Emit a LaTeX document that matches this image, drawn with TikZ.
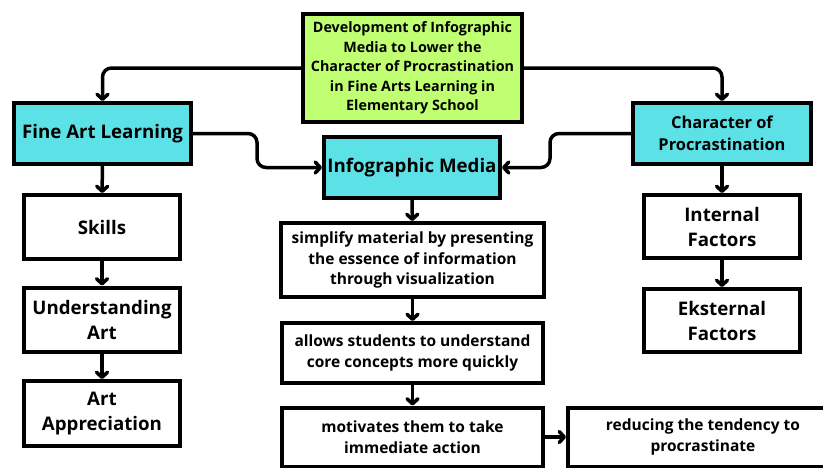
\documentclass[tikz,border=0pt]{standalone}
\usepackage{fontspec}
\setmainfont{Open Sans}[UprightFont=* Bold]
\usetikzlibrary{arrows.meta}
\definecolor{boxcyan}{HTML}{5CE1E6}
\definecolor{boxgreen}{HTML}{C1FF72}
\tikzset{
  box/.style={draw=black, line width=4pt, fill=white, inner sep=0pt, align=center, text=black},
  tealbox/.style={box, fill=boxcyan},
  greenbox/.style={box, fill=boxgreen},
  link/.style={line width=3.5pt, rounded corners=9pt, line cap=round,
    -{Straight Barb[length=5pt,width=11pt,line cap=round,line join=round]}},
  fbig/.style={font=\fontsize{18.7}{25}\selectfont},
  fmid/.style={font=\fontsize{16.4}{22}\selectfont},
  fsmall/.style={font=\fontsize{15.5}{20.5}\selectfont},
  ftitle/.style={font=\fontsize{14.3}{19.5}\selectfont},
}
\begin{document}
\begin{tikzpicture}[x=1pt,y=-1pt]
\useasboundingbox (0,0) rectangle (823,467);
\fill[white] (0,0) rectangle (823,467);

% top title box
\node[greenbox, ftitle, minimum width=219pt, minimum height=108pt] (top) at (412.5,68)
  {Development of Infographic\\Media to Lower the\\Character of Procrastination\\in Fine Arts Learning in\\Elementary School};

% three main branches
\node[tealbox, fbig, minimum width=177pt, minimum height=61pt] (art) at (102.5,133.5) {Fine Art Learning};
\node[tealbox, fbig, minimum width=176pt, minimum height=61pt] (info) at (412,167.5) {Infographic Media};
\node[tealbox, fmid, minimum width=178pt, minimum height=61pt] (proc) at (722,133.5) {Character of\\Procrastination};

% left column
\node[box, fbig, minimum width=156pt, minimum height=64pt] (skills) at (102,227) {Skills};
\node[box, fbig, minimum width=156pt, minimum height=64pt] (under) at (102,319.5) {Understanding\\Art};
\node[box, fbig, minimum width=156pt, minimum height=65pt] (appr) at (102,413.5) {Art\\Appreciation};

% middle column
\node[box, fsmall, minimum width=263pt, minimum height=74pt] (simp) at (412.5,260)
  {simplify material by presenting\\the essence of information\\through visualization};
\node[box, fsmall, minimum width=261pt, minimum height=60pt] (allow) at (412.5,353)
  {allows students to understand\\core concepts more quickly};
\node[box, fsmall, minimum width=261pt, minimum height=59pt] (motiv) at (412.5,437)
  {motivates them to take\\immediate action};
\node[box, fsmall, minimum width=270pt, minimum height=59pt] (reduce) at (703,437)
  {reducing the tendency to\\procrastinate};

% right column
\node[box, fbig, minimum width=156pt, minimum height=63pt] (inner) at (722,226.5) {Internal\\Factors};
\node[box, fbig, minimum width=156pt, minimum height=63pt] (outer) at (722,320.5) {Eksternal\\Factors};

% connectors from the title
\draw[link] (top.west) -| (art.north);
\draw[link] (top.east) -| (proc.north);
\draw[link] (art.east) -- ++(64,0) |- (info.west);
\draw[link] (proc.west) -- ++(-81,0) |- (info.east);

% chains
\draw[link] (art) -- (skills);
\draw[link] (skills) -- (under);
\draw[link] (under) -- (appr);
\draw[link] (info) -- (simp);
\draw[link] (simp) -- (allow);
\draw[link] (allow) -- (motiv);
\draw[link] (motiv) -- (reduce);
\draw[link] (proc) -- (inner);
\draw[link] (inner) -- (outer);
\end{tikzpicture}
\end{document}
